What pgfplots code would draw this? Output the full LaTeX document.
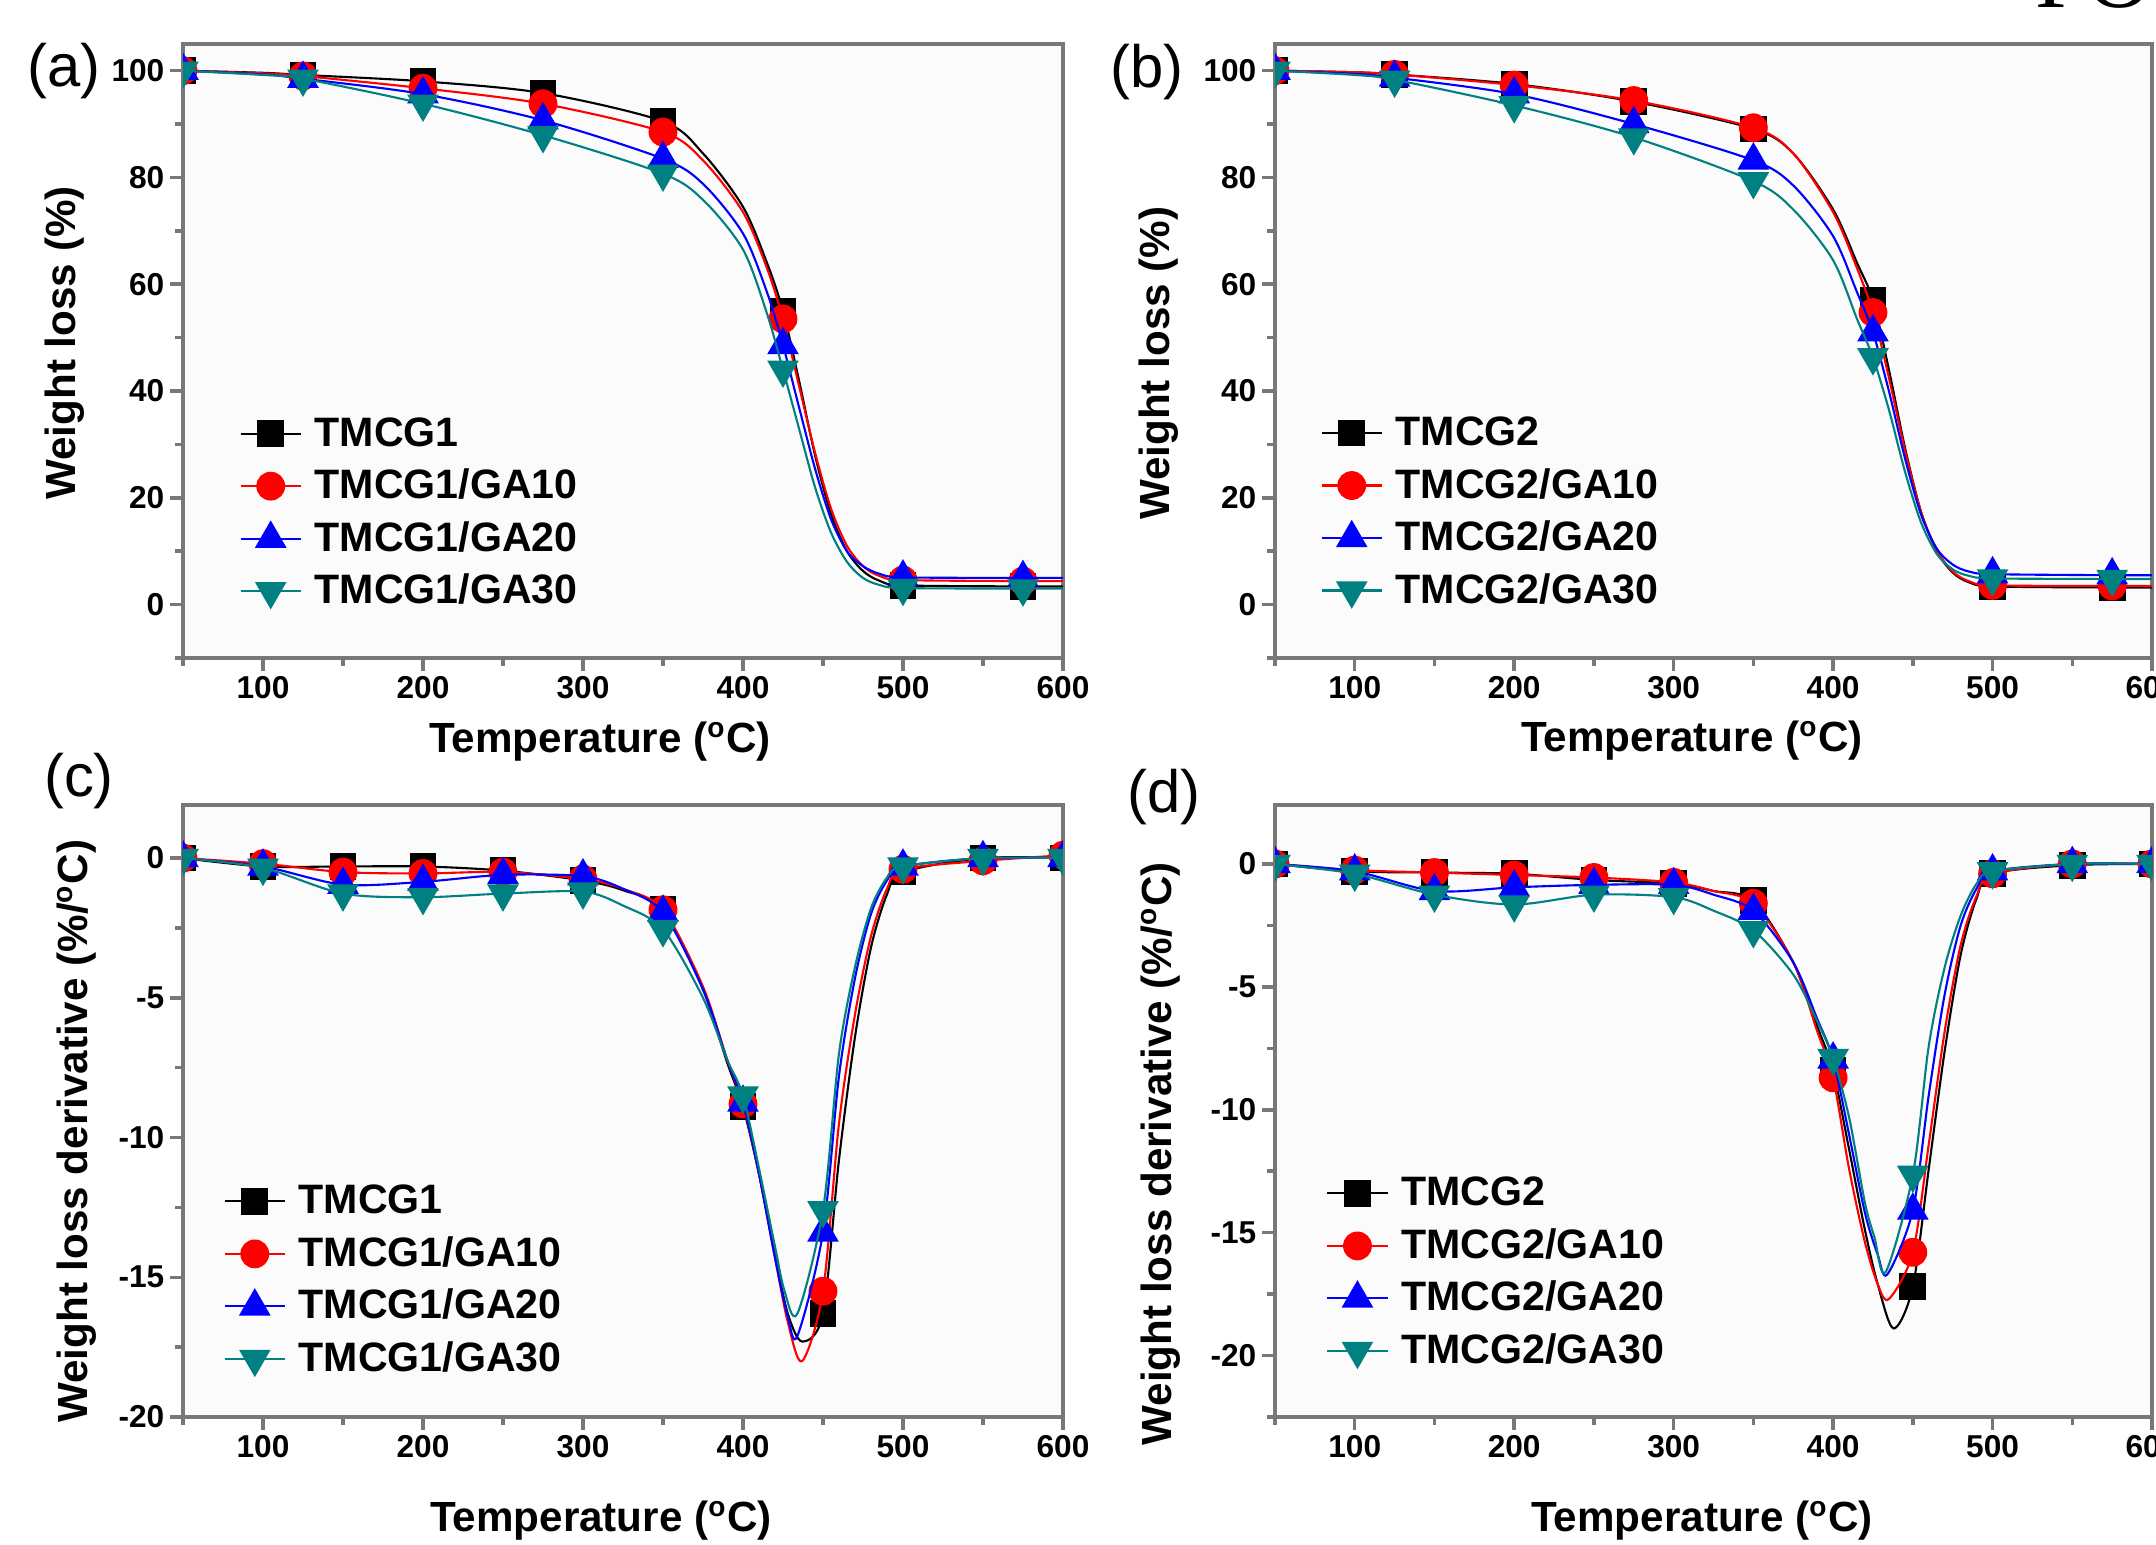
\documentclass[border=0pt]{standalone}
\usepackage{fontspec}
\setmainfont{Liberation Sans}
\newfontfamily\serifPO{Liberation Serif}
\usepackage{pgfplots}
\pgfplotsset{compat=1.18}
\definecolor{axgray}{RGB}{120,120,120}
\definecolor{tealc}{RGB}{0,128,128}
\pgfplotsset{
  panel/.style={
    scale only axis,
    xmin=50, xmax=600,
    xtick={100,200,300,400,500,600},
    minor xtick={50,150,250,350,450,550},
    tick align=outside,
    xtick pos=bottom, ytick pos=left,
    major tick length=1.3mm, minor tick length=0.8mm,
    tick style={axgray, line width=0.35mm},
    axis line style={axgray, line width=0.4mm},
    axis background/.style={fill=black!1.5},
    tick label style={font=\fontsize{9}{10}\selectfont\bfseries, inner sep=0.5mm},
    /pgf/number format/assume math mode=true,
    label style={font=\fontsize{12}{14}\selectfont\bfseries},
    xlabel={Temperature (\textsuperscript{o}C)},
    clip marker paths=true,
    legend cell align=left,
    legend image post style={mark indices={2}},
    legend style={draw=none, fill=none, inner sep=0pt, row sep=1.75mm, column sep=1.3mm,
      font=\fontsize{11.7}{12}\selectfont\bfseries,
      nodes={inner sep=0pt, text height=3mm, text depth=0.5mm},
      anchor=north west},
  },
  s1/.style={black, line width=0.6pt, smooth, mark=square*, mark size=3.5pt, mark options={solid}},
  s2/.style={red, line width=0.6pt, smooth, mark=*, mark size=3.8pt, mark options={solid}},
  s3/.style={blue, line width=0.6pt, smooth, mark=triangle*, mark size=4.6pt, mark options={solid}},
  s4/.style={tealc, line width=0.6pt, smooth, mark=triangle*, mark size=4.6pt, mark options={solid, rotate=180}},
  tga/.style={mark indices={1,3,4,5,6,10,17,18}},
  dtg/.style={mark indices={1,2,3,4,5,6,8,11,16,21,22,23}},
}
\begin{document}
\begin{tikzpicture}
% (a)
\begin{axis}[panel, at={(18.3mm,88.7mm)}, anchor=south west, width=88mm, height=61.4mm,
  ymin=-10, ymax=105, ytick={0,20,40,60,80,100}, minor ytick={-10,10,30,50,70,90},
  ylabel={Weight loss (\%)},
  xlabel style={at={(axis description cs:0.474,-0.1368)}, anchor=center},
  ylabel style={at={(axis description cs:-0.1347,0.513)}, anchor=center},
  legend style={at={(0.0636,0.395)}}]
\addplot[s1,tga] coordinates {(50,100)(100,99.6)(125,99.2)(200,98.0)(275,95.8)(350,90.5)(375,84.5)(400,74.5)(415,64)(425,55)(435,42)(445,28)(455,17)(465,10)(475,6.3)(485,4.5)(500,3.6)(575,3.4)(600,3.4)};
\addplot[s2,tga] coordinates {(50,100)(100,99.5)(125,99.0)(200,96.7)(275,93.8)(350,88.5)(375,83.2)(400,73.5)(415,63)(425,53.5)(435,41)(445,28.5)(455,18)(465,11)(475,7.2)(485,5.4)(500,4.6)(575,4.4)(600,4.4)};
\addplot[s3,tga] coordinates {(50,100)(100,99.3)(125,98.5)(200,95.6)(275,90.7)(350,83.5)(375,78.8)(400,69.5)(415,58.5)(425,48.6)(435,37)(445,25.5)(455,16)(465,10)(475,7.2)(485,5.8)(500,5.1)(575,5.0)(600,5.0)};
\addplot[s4,tga] coordinates {(50,100)(100,99.2)(125,98.5)(200,93.8)(275,87.9)(350,80.7)(375,75.8)(400,66.5)(415,54.5)(425,44)(435,33)(445,22)(455,13.5)(465,8)(475,5.0)(485,3.7)(500,3.1)(575,3.0)(600,3.0)};
\legend{TMCG1,TMCG1/GA10,TMCG1/GA20,TMCG1/GA30}
\end{axis}
% (b)
\begin{axis}[panel, at={(127.5mm,88.7mm)}, anchor=south west, width=87.7mm, height=61.4mm,
  ymin=-10, ymax=105, ytick={0,20,40,60,80,100}, minor ytick={-10,10,30,50,70,90},
  ylabel={Weight loss (\%)},
  xlabel style={at={(axis description cs:0.4755,-0.135)}, anchor=center},
  ylabel style={at={(axis description cs:-0.1323,0.480)}, anchor=center},
  legend style={at={(0.0513,0.396)}}]
\addplot[s1,tga] coordinates {(50,100)(100,99.7)(125,99.3)(200,97.5)(275,94.2)(350,89.1)(375,84.5)(400,74)(415,64)(425,57)(435,44)(445,29.5)(455,17.5)(465,10)(475,6)(485,4.2)(500,3.4)(575,3.2)(600,3.2)};
\addplot[s2,tga] coordinates {(50,100)(100,99.7)(125,99.3)(200,97.3)(275,94.4)(350,89.3)(375,84.5)(400,73.5)(415,63)(425,54.7)(435,42.5)(445,29)(455,17.5)(465,10.2)(475,6.2)(485,4.4)(500,3.6)(575,3.5)(600,3.5)};
\addplot[s3,tga] coordinates {(50,100)(100,99.4)(125,98.7)(200,95.6)(275,90)(350,83.2)(375,78.5)(400,69)(415,58.5)(425,51)(435,40)(445,27.5)(455,17)(465,10.5)(475,7.5)(485,6.2)(500,5.7)(575,5.5)(600,5.5)};
\addplot[s4,tga] coordinates {(50,100)(100,99.2)(125,98.3)(200,93.5)(275,87.5)(350,79.3)(375,74)(400,64.5)(415,53.5)(425,46.3)(435,36.5)(445,25)(455,15.5)(465,9.5)(475,6.6)(485,5.4)(500,4.9)(575,4.8)(600,4.8)};
\legend{TMCG2,TMCG2/GA10,TMCG2/GA20,TMCG2/GA30}
\end{axis}
% (c)
\begin{axis}[panel, at={(18.3mm,12.8mm)}, anchor=south west, width=88mm, height=61.2mm,
  ymin=-20, ymax=1.9, ytick={-20,-15,-10,-5,0}, minor ytick={-17.5,-12.5,-7.5,-2.5},
  ylabel={Weight loss derivative (\%/\textsuperscript{o}C)},
  xlabel style={at={(axis description cs:0.475,-0.170)}, anchor=center},
  ylabel style={at={(axis description cs:-0.1205,0.467)}, anchor=center},
  legend style={at={(0.0455,0.382)}}]
\addplot[s1,dtg] coordinates {(50,0)(100,-0.3)(150,-0.3)(200,-0.3)(250,-0.45)(300,-0.8)(325,-1.15)(350,-1.85)(375,-4.7)(390,-7.3)(400,-8.9)(410,-11.3)(420,-14.2)(428,-16.3)(437,-17.3)(450,-16.3)(460,-10.8)(470,-6.4)(480,-3.2)(490,-1.3)(500,-0.5)(550,0)(600,0)};
\addplot[s2,dtg] coordinates {(50,0)(100,-0.2)(150,-0.5)(200,-0.55)(250,-0.5)(300,-0.75)(325,-1.1)(350,-1.85)(375,-4.6)(390,-7.2)(400,-8.8)(410,-11.3)(420,-14.3)(428,-16.6)(437,-18.0)(450,-15.5)(460,-9.5)(470,-5.6)(480,-2.8)(490,-1.1)(500,-0.4)(550,-0.1)(600,0.1)};
\addplot[s3,dtg] coordinates {(50,0)(100,-0.3)(150,-0.95)(200,-0.85)(250,-0.6)(300,-0.65)(325,-1.1)(350,-1.95)(375,-4.7)(390,-7.2)(400,-8.75)(410,-11.3)(420,-14.3)(428,-16.4)(434,-17.1)(450,-13.4)(460,-7.8)(470,-4.3)(480,-2.0)(490,-0.8)(500,-0.3)(550,0)(600,0)};
\addplot[s4,dtg] coordinates {(50,0)(100,-0.35)(150,-1.27)(200,-1.4)(250,-1.27)(300,-1.2)(325,-1.7)(350,-2.55)(375,-5.0)(390,-7.2)(400,-8.5)(410,-11.1)(420,-13.9)(426,-15.5)(434,-16.3)(450,-12.6)(460,-7.0)(470,-3.9)(480,-1.8)(490,-0.7)(500,-0.3)(550,0)(600,0)};
\legend{TMCG1,TMCG1/GA10,TMCG1/GA20,TMCG1/GA30}
\end{axis}
% (d)
\begin{axis}[panel, at={(127.5mm,12.8mm)}, anchor=south west, width=87.7mm, height=61.2mm,
  ymin=-22.5, ymax=2.4, ytick={-20,-15,-10,-5,0}, minor ytick={-22.5,-17.5,-12.5,-7.5,-2.5},
  ylabel={Weight loss derivative (\%/\textsuperscript{o}C)},
  xlabel style={at={(axis description cs:0.487,-0.170)}, anchor=center},
  ylabel style={at={(axis description cs:-0.130,0.43)}, anchor=center},
  legend style={at={(0.0578,0.395)}}]
\addplot[s1,dtg] coordinates {(50,0)(100,-0.3)(150,-0.35)(200,-0.4)(250,-0.65)(300,-0.8)(325,-1.1)(350,-1.5)(375,-4.0)(390,-6.6)(400,-8.4)(410,-11.6)(420,-14.9)(428,-17.1)(438,-18.9)(450,-17.2)(460,-12.4)(470,-7.6)(480,-3.7)(490,-1.4)(500,-0.4)(550,-0.05)(600,0)};
\addplot[s2,dtg] coordinates {(50,0)(100,-0.25)(150,-0.35)(200,-0.45)(250,-0.55)(300,-0.75)(325,-1.1)(350,-1.6)(375,-4.0)(390,-6.8)(400,-8.7)(410,-12.4)(420,-15.4)(428,-17.1)(435,-17.7)(450,-15.8)(460,-11.4)(470,-6.8)(480,-3.3)(490,-1.3)(500,-0.4)(550,0)(600,0)};
\addplot[s3,dtg] coordinates {(50,0)(100,-0.3)(150,-1.1)(200,-0.95)(250,-0.85)(300,-0.85)(325,-1.25)(350,-1.9)(375,-4.0)(390,-6.3)(400,-7.95)(410,-11.0)(420,-14.2)(428,-15.9)(434,-16.7)(450,-14.1)(460,-9.4)(470,-5.3)(480,-2.5)(490,-1.0)(500,-0.3)(550,0)(600,0)};
\addplot[s4,dtg] coordinates {(50,0)(100,-0.4)(150,-1.25)(200,-1.65)(250,-1.25)(300,-1.35)(325,-1.9)(350,-2.7)(375,-4.5)(390,-6.4)(400,-7.9)(410,-10.3)(420,-13.8)(426,-15.2)(433,-16.6)(450,-12.65)(460,-7.4)(470,-4.2)(480,-2.1)(490,-0.8)(500,-0.3)(550,0)(600,0)};
\legend{TMCG2,TMCG2/GA10,TMCG2/GA20,TMCG2/GA30}
\end{axis}
% panel labels
\node[font=\fontsize{17}{18}\selectfont, inner sep=0pt] at (6.4mm,147.4mm) {(a)};
\node[font=\fontsize{17}{18}\selectfont, inner sep=0pt] at (114.7mm,147.3mm) {(b)};
\node[font=\fontsize{17}{18}\selectfont, inner sep=0pt] at (7.9mm,76.4mm) {(c)};
\node[font=\fontsize{17}{18}\selectfont, inner sep=0pt] at (116.4mm,74.75mm) {(d)};
\node[font=\serifPO\fontsize{26}{26}\selectfont, inner sep=0pt, anchor=base west] at (203.5mm,153.7mm) {PO};
\pgfresetboundingbox
\path (0,0) rectangle (215.6mm,154.5mm);
\end{tikzpicture}
\end{document}
